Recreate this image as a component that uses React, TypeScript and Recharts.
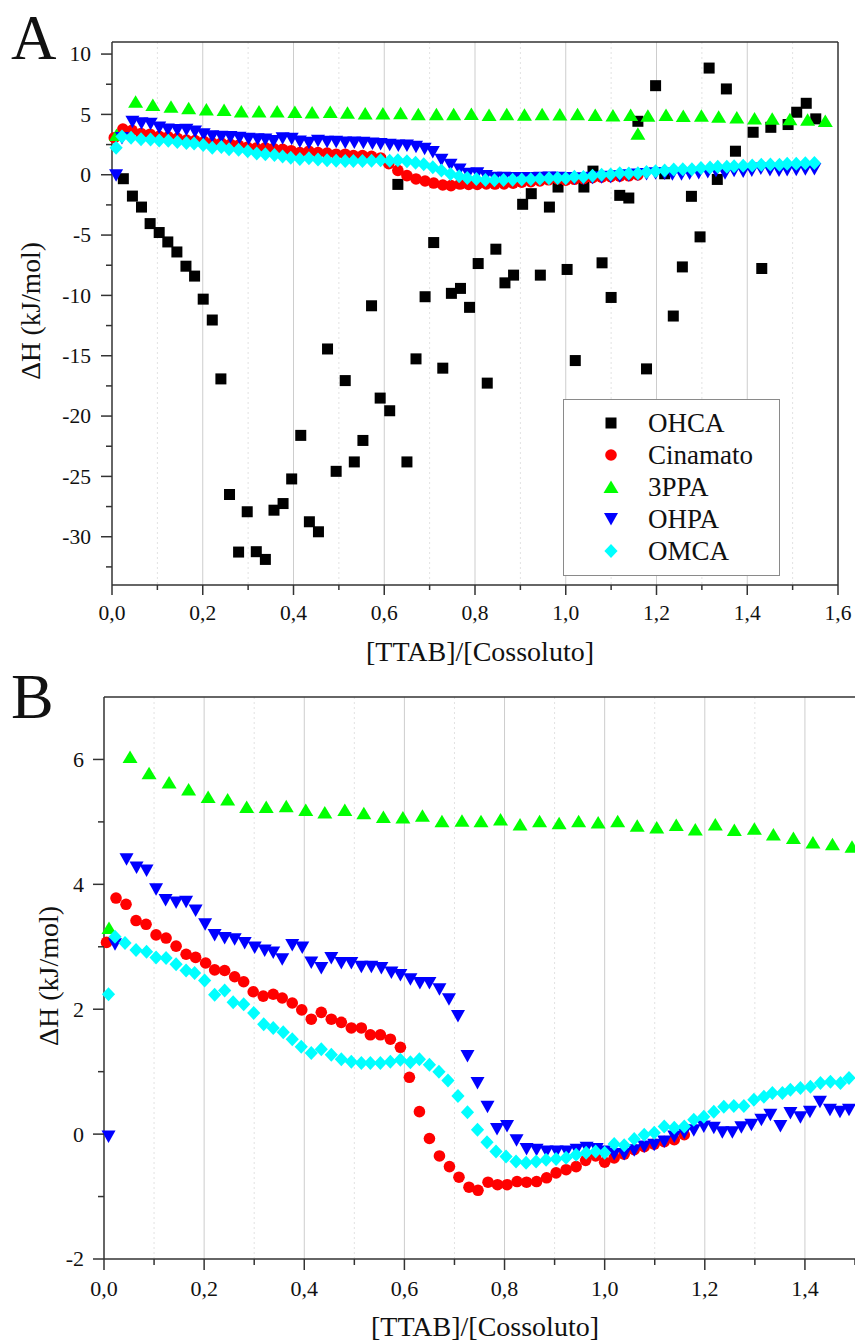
import React from 'react';
import { ScatterChart, Scatter, XAxis, YAxis, CartesianGrid, ReferenceLine, Legend } from 'recharts';

const SERIF = '"Liberation Serif", "Times New Roman", serif';
const AXIS = '#333';

// [TTAB]/[Cossoluto] vs ΔH (kJ/mol)
const ohca: [number, number][] = [
  [0.025, -0.33], [0.045, -1.77], [0.065, -2.68], [0.084, -4.05], [0.104, -4.79], [0.123, -5.57],
  [0.143, -6.4], [0.163, -7.58], [0.182, -8.4], [0.201, -10.31], [0.221, -12.04], [0.24, -16.92],
  [0.259, -26.5], [0.279, -31.27], [0.298, -27.93], [0.318, -31.24], [0.338, -31.88], [0.357, -27.8],
  [0.377, -27.25], [0.396, -25.21], [0.416, -21.6], [0.435, -28.76], [0.455, -29.59], [0.475, -14.44],
  [0.494, -24.58], [0.514, -17.06], [0.534, -23.8], [0.553, -22.02], [0.572, -10.86], [0.591, -18.51],
  [0.612, -19.56], [0.63, -0.8], [0.65, -23.8], [0.67, -15.26], [0.69, -10.11], [0.709, -5.62],
  [0.729, -16.03], [0.748, -9.83], [0.768, -9.42], [0.788, -10.99], [0.807, -7.36], [0.827, -17.27],
  [0.846, -6.17], [0.866, -8.96], [0.885, -8.32], [0.905, -2.45], [0.924, -1.57], [0.944, -8.32],
  [0.964, -2.68], [0.983, -1.02], [1.003, -7.85], [1.021, -15.4], [1.04, -1.02], [1.06, 0.3],
  [1.08, -7.3], [1.1, -10.17], [1.119, -1.71], [1.139, -1.93], [1.159, 4.43], [1.178, -16.09],
  [1.198, 7.38], [1.218, 0.08], [1.237, -11.71], [1.257, -7.64], [1.277, -1.79], [1.296, -5.15],
  [1.316, 8.84], [1.334, -0.39], [1.354, 7.11], [1.374, 1.95], [1.413, 3.52], [1.432, -7.77],
  [1.452, 3.93], [1.49, 4.16], [1.509, 5.18], [1.53, 5.92], [1.551, 4.63],
];

const cinamato: [number, number][] = [
  [0.005, 3.07], [0.024, 3.78], [0.044, 3.68], [0.064, 3.42], [0.084, 3.36], [0.104, 3.19],
  [0.124, 3.14], [0.144, 3.01], [0.164, 2.88], [0.183, 2.83], [0.203, 2.74], [0.221, 2.63],
  [0.241, 2.62], [0.261, 2.52], [0.279, 2.44], [0.298, 2.28], [0.318, 2.21], [0.338, 2.24],
  [0.356, 2.18], [0.376, 2.1], [0.395, 1.99], [0.414, 1.84], [0.434, 1.95], [0.454, 1.84],
  [0.474, 1.79], [0.494, 1.7], [0.514, 1.7], [0.532, 1.59], [0.552, 1.59], [0.572, 1.52],
  [0.592, 1.39], [0.61, 0.91], [0.63, 0.36], [0.65, -0.07], [0.67, -0.35], [0.69, -0.52],
  [0.709, -0.69], [0.729, -0.85], [0.747, -0.9], [0.767, -0.77], [0.786, -0.81], [0.805, -0.81],
  [0.825, -0.76], [0.844, -0.77], [0.864, -0.76], [0.884, -0.7], [0.903, -0.62], [0.923, -0.57],
  [0.943, -0.52], [0.962, -0.42], [0.982, -0.35], [1.0, -0.45], [1.019, -0.38], [1.039, -0.32],
  [1.059, -0.25], [1.079, -0.2], [1.099, -0.16], [1.119, -0.12], [1.139, -0.09], [1.159, -0.01],
];

const ppa: [number, number][] = [
  [0.01, 3.3], [0.052, 6.04], [0.09, 5.78], [0.13, 5.63], [0.169, 5.52], [0.208, 5.4],
  [0.247, 5.36], [0.285, 5.24], [0.324, 5.24], [0.364, 5.25], [0.403, 5.19], [0.441, 5.15],
  [0.481, 5.19], [0.519, 5.14], [0.558, 5.08], [0.597, 5.07], [0.636, 5.1], [0.675, 5.01],
  [0.715, 5.02], [0.753, 5.01], [0.792, 5.04], [0.831, 4.96], [0.87, 5.01], [0.909, 4.98],
  [0.948, 5.01], [0.987, 4.99], [1.026, 5.01], [1.065, 4.94], [1.104, 4.91], [1.143, 4.95],
  [1.181, 4.88], [1.221, 4.96], [1.259, 4.87], [1.299, 4.89], [1.337, 4.8], [1.377, 4.74],
  [1.416, 4.67], [1.455, 4.64], [1.494, 4.6], [1.533, 4.55], [1.572, 4.45],
];
// extra 3PPA point only seen in panel A
const ppaExtraA: [number, number][] = [[1.159, 3.39]];

const ohpa: [number, number][] = [
  [0.009, -0.04], [0.022, 3.04], [0.045, 4.4], [0.065, 4.27], [0.085, 4.22], [0.104, 3.92],
  [0.123, 3.75], [0.144, 3.71], [0.164, 3.72], [0.183, 3.58], [0.202, 3.36], [0.221, 3.19],
  [0.241, 3.14], [0.261, 3.12], [0.281, 3.06], [0.301, 2.99], [0.321, 2.94], [0.338, 2.91],
  [0.356, 2.8], [0.376, 3.03], [0.396, 2.99], [0.414, 2.75], [0.434, 2.66], [0.454, 2.82],
  [0.474, 2.74], [0.494, 2.74], [0.514, 2.68], [0.534, 2.68], [0.554, 2.66], [0.574, 2.59],
  [0.592, 2.55], [0.612, 2.48], [0.631, 2.42], [0.65, 2.42], [0.67, 2.32], [0.689, 2.16],
  [0.707, 1.89], [0.726, 1.25], [0.746, 0.82], [0.766, 0.44], [0.785, 0.08], [0.805, 0.13],
  [0.824, -0.1], [0.844, -0.24], [0.864, -0.25], [0.884, -0.28], [0.904, -0.28], [0.924, -0.28],
  [0.944, -0.25], [0.964, -0.22], [0.984, -0.24], [1.0, -0.28], [1.019, -0.32], [1.039, -0.32],
  [1.059, -0.26], [1.079, -0.2], [1.099, -0.17], [1.119, -0.12], [1.139, -0.04], [1.159, 0.02],
  [1.178, 0.06], [1.198, 0.12], [1.218, 0.1], [1.235, 0.03], [1.255, 0.03], [1.273, 0.11],
  [1.293, 0.15], [1.313, 0.23], [1.331, 0.31], [1.351, 0.13], [1.371, 0.34], [1.391, 0.27],
  [1.41, 0.36], [1.43, 0.52], [1.45, 0.39], [1.47, 0.36], [1.488, 0.39], [1.508, 0.42],
  [1.528, 0.45], [1.548, 0.47],
];

const omca: [number, number][] = [
  [0.009, 2.24], [0.022, 3.16], [0.042, 3.06], [0.064, 2.95], [0.085, 2.92], [0.104, 2.83],
  [0.124, 2.82], [0.144, 2.72], [0.164, 2.62], [0.181, 2.58], [0.201, 2.46], [0.221, 2.23],
  [0.241, 2.3], [0.258, 2.11], [0.279, 2.08], [0.299, 1.94], [0.319, 1.76], [0.338, 1.7],
  [0.358, 1.63], [0.376, 1.52], [0.394, 1.4], [0.414, 1.3], [0.434, 1.36], [0.454, 1.27],
  [0.474, 1.2], [0.494, 1.16], [0.514, 1.14], [0.532, 1.14], [0.552, 1.14], [0.572, 1.16],
  [0.592, 1.19], [0.612, 1.15], [0.63, 1.2], [0.65, 1.11], [0.669, 1.0], [0.687, 0.86],
  [0.707, 0.61], [0.726, 0.35], [0.746, 0.07], [0.765, -0.13], [0.783, -0.28], [0.803, -0.36],
  [0.823, -0.44], [0.843, -0.46], [0.863, -0.44], [0.883, -0.41], [0.903, -0.4], [0.923, -0.38],
  [0.943, -0.33], [0.963, -0.3], [0.982, -0.28], [1.0, -0.3], [1.019, -0.16], [1.039, -0.18],
  [1.059, -0.08], [1.079, -0.01], [1.099, 0.02], [1.119, 0.12], [1.139, 0.1], [1.159, 0.12],
  [1.178, 0.23], [1.198, 0.28], [1.218, 0.36], [1.238, 0.44], [1.258, 0.45], [1.278, 0.45],
  [1.298, 0.55], [1.318, 0.6], [1.335, 0.66], [1.355, 0.66], [1.371, 0.71], [1.391, 0.74],
  [1.411, 0.76], [1.431, 0.82], [1.451, 0.84], [1.471, 0.82], [1.488, 0.9], [1.508, 0.92],
  [1.528, 0.95], [1.548, 0.98],
];

const xTicksA = [0, 0.1, 0.2, 0.3, 0.4, 0.5, 0.6, 0.7, 0.8, 0.9, 1.0, 1.1, 1.2, 1.3, 1.4, 1.5, 1.6];
const xTicksB = [0, 0.1, 0.2, 0.3, 0.4, 0.5, 0.6, 0.7, 0.8, 0.9, 1.0, 1.1, 1.2, 1.3, 1.4, 1.5];
const yTicksA = [-32.5, -30, -27.5, -25, -22.5, -20, -17.5, -15, -12.5, -10, -7.5, -5, -2.5, 0, 2.5, 5, 7.5, 10];
const yTicksB = [-2, -1, 0, 1, 2, 3, 4, 5, 6];
const gridMajor = [0.2, 0.4, 0.6, 0.8, 1.0, 1.2, 1.4];
const gridMinorA = [0.1, 0.3, 0.5, 0.7, 0.9, 1.1, 1.3, 1.5];
const gridMinorB = [0.1, 0.3, 0.5, 0.7, 0.9, 1.1, 1.3];

const toPts = (arr: [number, number][]) => arr.map(([x, y]) => ({ x, y }));

const Square = (p: any) => <rect x={p.cx - 5.5} y={p.cy - 5.5} width={11} height={11} fill="#000000" />;
const Dot = (p: any) => <circle cx={p.cx} cy={p.cy} r={5.8} fill="#ff0000" />;
const TriUp = (p: any) => (
  <polygon points={`${p.cx},${p.cy - 6.5} ${p.cx + 7.5},${p.cy + 6} ${p.cx - 7.5},${p.cy + 6}`} fill="#00ff00" />
);
const TriDown = (p: any) => (
  <polygon points={`${p.cx - 7},${p.cy - 6} ${p.cx + 7},${p.cy - 6} ${p.cx},${p.cy + 6.5}`} fill="#0000ff" />
);
const Diamond = (p: any) => (
  <polygon points={`${p.cx},${p.cy - 7} ${p.cx + 6.6},${p.cy} ${p.cx},${p.cy + 7} ${p.cx - 6.6},${p.cy}`} fill="#00ffff" />
);

const legendItems = [
  { name: 'OHCA', Shape: Square },
  { name: 'Cinamato', Shape: Dot },
  { name: '3PPA', Shape: TriUp },
  { name: 'OHPA', Shape: TriDown },
  { name: 'OMCA', Shape: Diamond },
];

const LegendBox = () => (
  <svg width={217} height={177} style={{ display: 'block' }}>
    <rect x={0.5} y={0.5} width={216} height={176} fill="#fff" stroke="#8a8a8a" strokeWidth={1} />
    {legendItems.map((it, i) => {
      const base = 33 + i * 32;
      return (
        <g key={it.name}>
          <it.Shape cx={48} cy={base - 9} />
          <text x={85} y={base} fontFamily={SERIF} fontSize={27} fill="#111">{it.name}</text>
        </g>
      );
    })}
  </svg>
);

const fmtX = (v: number) => v.toFixed(1).replace('.', ',');

const makeXTick = (fontSize: number, labelOff: number, majorLen: number, minorLen: number) => (props: any) => {
  const { x, y, payload } = props;
  const v = payload.value;
  const major = Math.round(v * 10) % 2 === 0;
  return (
    <g>
      <line x1={x} x2={x} y1={y} y2={y + (major ? majorLen : minorLen)} stroke={AXIS} strokeWidth={1.5} />
      {major && (
        <text x={x} y={y + labelOff} textAnchor="middle" fontFamily={SERIF} fontSize={fontSize} fill="#111">
          {fmtX(v)}
        </text>
      )}
    </g>
  );
};

const makeYTick = (fontSize: number, labelOff: number, step: number, majorLen: number, minorLen: number) => (props: any) => {
  const { x, y, payload } = props;
  const v = payload.value;
  const major = Math.abs(v % step) < 1e-9;
  return (
    <g>
      <line x1={x - (major ? majorLen : minorLen)} x2={x} y1={y} y2={y} stroke={AXIS} strokeWidth={1.5} />
      {major && (
        <text x={x - labelOff} y={y} dy="0.34em" textAnchor="end" fontFamily={SERIF} fontSize={fontSize} fill="#111">
          {String(v)}
        </text>
      )}
    </g>
  );
};

const inB = (d: { x: number }) => d.x <= 1.5;

export default function App() {
  return (
    <div style={{ position: 'absolute', left: 0, top: 0, width: 855, height: 1341, background: '#fff' }}>
      <div style={{ position: 'absolute', left: 0, top: 0 }}>
        <ScatterChart width={855} height={660} margin={{ top: 42, right: 17, bottom: 0, left: 0 }}>
          <CartesianGrid horizontal={false} verticalValues={gridMinorA} stroke="#e2e2e2" strokeDasharray="2 3" />
          <CartesianGrid horizontal={false} verticalValues={gridMajor} stroke="#cdcdcd" />
          <XAxis
            type="number" dataKey="x" domain={[0, 1.6]} ticks={xTicksA} interval={0}
            height={75} tickSize={0} tickMargin={0} tickLine={false}
            axisLine={{ stroke: AXIS, strokeWidth: 1.5 }}
            tick={makeXTick(21.5, 35, 10, 5)}
          />
          <YAxis
            type="number" dataKey="y" domain={[-34, 11]} ticks={yTicksA} interval={0}
            width={112} tickSize={0} tickMargin={0} tickLine={false}
            axisLine={{ stroke: AXIS, strokeWidth: 1.5 }}
            tick={makeYTick(21.5, 21, 5, 11, 6)}
          />
          <ReferenceLine y={11} stroke={AXIS} strokeWidth={1.5} />
          <ReferenceLine x={1.6} stroke={AXIS} strokeWidth={1.5} />
          <Scatter name="OHCA" data={toPts(ohca)} shape={Square} isAnimationActive={false} />
          <Scatter name="Cinamato" data={toPts(cinamato)} shape={Dot} isAnimationActive={false} />
          <Scatter name="3PPA" data={toPts(ppa.concat(ppaExtraA))} shape={TriUp} isAnimationActive={false} />
          <Scatter name="OHPA" data={toPts(ohpa)} shape={TriDown} isAnimationActive={false} />
          <Scatter name="OMCA" data={toPts(omca)} shape={Diamond} isAnimationActive={false} />
          <Legend
            layout="horizontal" align="center" verticalAlign="middle"
            content={() => <LegendBox />}
            wrapperStyle={{ left: 563, top: 399, width: 217, height: 177 }}
          />
        </ScatterChart>
      </div>
      <div style={{ position: 'absolute', left: 0, top: 660 }}>
        <ScatterChart width={855} height={681} margin={{ top: 37, right: 0, bottom: 0, left: 0 }}>
          <CartesianGrid horizontal={false} verticalValues={gridMinorB} stroke="#e2e2e2" strokeDasharray="2 3" />
          <CartesianGrid horizontal={false} verticalValues={gridMajor} stroke="#cdcdcd" />
          <XAxis
            type="number" dataKey="x" domain={[0, 1.5]} ticks={xTicksB} interval={0}
            height={82} tickSize={0} tickMargin={0} tickLine={false}
            axisLine={{ stroke: AXIS, strokeWidth: 1.5 }}
            tick={makeXTick(22, 37, 11, 6)}
          />
          <YAxis
            type="number" dataKey="y" domain={[-2, 7]} ticks={yTicksB} interval={0}
            width={104} tickSize={0} tickMargin={0} tickLine={false}
            axisLine={{ stroke: AXIS, strokeWidth: 1.5 }}
            tick={makeYTick(22, 20, 2, 11, 6)}
          />
          <ReferenceLine y={7} stroke={AXIS} strokeWidth={1.5} />
          <Scatter name="Cinamato" data={toPts(cinamato).filter(inB)} shape={Dot} isAnimationActive={false} />
          <Scatter name="3PPA" data={toPts(ppa).filter(inB)} shape={TriUp} isAnimationActive={false} />
          <Scatter name="OHPA" data={toPts(ohpa).filter(inB)} shape={TriDown} isAnimationActive={false} />
          <Scatter name="OMCA" data={toPts(omca).filter(inB)} shape={Diamond} isAnimationActive={false} />
        </ScatterChart>
      </div>
      <svg width={855} height={1341} style={{ position: 'absolute', left: 0, top: 0, pointerEvents: 'none' }}>
        <text x={11} y={59} fontFamily={SERIF} fontSize={63} fill="#111">A</text>
        <text x={11} y={718} fontFamily={SERIF} fontSize={64} fill="#111">B</text>
        <text x={480} y={661} textAnchor="middle" fontFamily={SERIF} fontSize={28} fill="#111">[TTAB]/[Cossoluto]</text>
        <text x={485} y={1336} textAnchor="middle" fontFamily={SERIF} fontSize={28} fill="#111">[TTAB]/[Cossoluto]</text>
        <text x={40} y={311} transform="rotate(-90 40 311)" textAnchor="middle" fontFamily={SERIF} fontSize={27.5} fill="#111">ΔH (kJ/mol)</text>
        <text x={58} y={976} transform="rotate(-90 58 976)" textAnchor="middle" fontFamily={SERIF} fontSize={28} fill="#111">ΔH (kJ/mol)</text>
      </svg>
    </div>
  );
}
